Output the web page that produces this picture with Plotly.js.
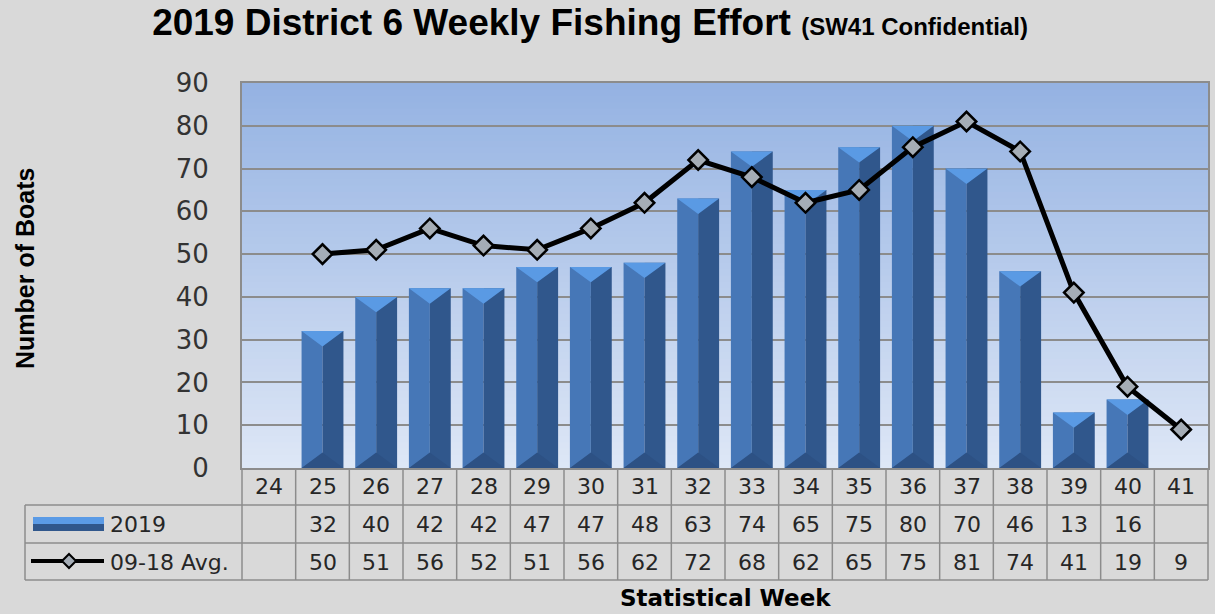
<!DOCTYPE html>
<html><head><meta charset="utf-8">
<script src="https://cdn.plot.ly/plotly-3.0.1.min.js"></script>
<style>html,body{margin:0;padding:0;background:#d9d9d9;}#chart{width:1215px;height:614px;}</style>
</head><body><div id="chart"></div>
<script>
// ---- data ----
const weeks = [24,25,26,27,28,29,30,31,32,33,34,35,36,37,38,39,40,41];
const boats2019 = [null,32,40,42,42,47,47,48,63,74,65,75,80,70,46,13,16,null];
const avg0918 = [null,50,51,56,52,51,56,62,72,68,62,65,75,81,74,41,19,9];
const seriesNames = ['2019','09-18 Avg.'];
const yTicks = [0,10,20,30,40,50,60,70,80,90];
const chartTitle = '2019 District 6 Weekly Fishing Effort';
const chartSubtitle = '(SW41 Confidential)';
const xTitle = 'Statistical Week';
const yTitle = 'Number of Boats';

// ---- geometry / style ----
const W = 1215, H = 614;
const M = {l: 242, r: 7, t: 83, b: 146};
const plotH = H - M.t - M.b, plotW = W - M.l - M.r;
const idx = weeks.map((w, i) => i);
const n = weeks.length;
const half = 0.39;     // half bar width (category units)
const bevel = 3.6;     // bevel depth (value units)
const py = px => (H - M.b - px) / plotH;       // pixel y -> paper y
const pxX = px => (px - M.l) / plotW;          // pixel x -> paper x
const catPaper = v => (v + 0.5) / n;           // category coord -> paper x

const shapes = [];
// plot background gradient
const gTop = [148,178,226], gBot = [222,231,246];
const bands = 60;
for (let k = 0; k < bands; k++) {
  const t = (k + 0.5) / bands;
  const c = gTop.map((a, j) => Math.round(gBot[j] + (a - gBot[j]) * t));
  shapes.push({type:'rect', xref:'paper', yref:'paper', x0:0, x1:1, y0:k/bands, y1:(k+1)/bands + 0.002,
    fillcolor:`rgb(${c[0]},${c[1]},${c[2]})`, line:{width:0}, layer:'below'});
}
// data table grid
const gridC = '#8c8c8c';
const rowB = [py(505), py(543), py(580)];
const leftX = pxX(25);
rowB.forEach(y => shapes.push({type:'line', xref:'paper', yref:'paper', x0:leftX, x1:1, y0:y, y1:y, line:{color:gridC, width:1.5}}));
shapes.push({type:'line', xref:'paper', yref:'paper', x0:leftX, x1:leftX, y0:rowB[0], y1:rowB[2], line:{color:gridC, width:1.5}});
for (let i = 0; i <= n; i++) {
  const x = catPaper(i - 0.5);
  shapes.push({type:'line', xref:'paper', yref:'paper', x0:x, x1:x, y0:0, y1:rowB[2], line:{color:gridC, width:1.5}});
}
// legend keys inside table
shapes.push({type:'rect', xref:'paper', yref:'paper', x0:pxX(33), x1:pxX(104), y0:py(517), y1:py(524), fillcolor:'#5b9be6', line:{width:0}});
shapes.push({type:'rect', xref:'paper', yref:'paper', x0:pxX(33), x1:pxX(104), y0:py(524), y1:py(531), fillcolor:'#30578c', line:{width:0}});
shapes.push({type:'line', xref:'paper', yref:'paper', x0:pxX(31), x1:pxX(104), y0:py(561), y1:py(561), line:{color:'#000', width:4}});
const dx = 7 / plotW, dy = 7 / plotH, cx = pxX(69), cy = py(561);
shapes.push({type:'path', xref:'paper', yref:'paper',
  path:`M ${cx-dx} ${cy} L ${cx} ${cy+dy} L ${cx+dx} ${cy} L ${cx} ${cy-dy} Z`,
  fillcolor:'#a5adb6', line:{color:'#000', width:2}});

// ---- traces ----
const leftFace = {type:'bar', x:idx, y:boats2019, width:half, offset:-half,
  marker:{color:'#4677b7', line:{width:0}}, hoverinfo:'skip', showlegend:false};
const rightFace = {type:'bar', x:idx, y:boats2019, width:half, offset:0,
  marker:{color:'#30578c', line:{width:0}}, hoverinfo:'skip', showlegend:false};
const topX = [], topY = [], botX = [], botY = [];
idx.forEach(i => {
  const v = boats2019[i];
  if (v == null) return;
  topX.push(i-half, i+half, i, i-half, null); topY.push(v, v, v-bevel, v, null);
  botX.push(i-half, i+half, i, i-half, null); botY.push(0, 0, bevel, 0, null);
});
const topCap = {type:'scatter', mode:'lines', x:topX, y:topY, fill:'toself', fillcolor:'#5a9ae4',
  line:{width:0, color:'#5a9ae4'}, hoverinfo:'skip', showlegend:false};
const botCap = {type:'scatter', mode:'lines', x:botX, y:botY, fill:'toself', fillcolor:'#2d5184',
  line:{width:0, color:'#2d5184'}, hoverinfo:'skip', showlegend:false};
const avgLine = {type:'scatter', mode:'lines+markers', x:idx, y:avg0918, name:seriesNames[1],
  line:{color:'#000', width:5}, marker:{symbol:'diamond', size:15, color:'#a5adb6', line:{color:'#000', width:2.5}},
  cliponaxis:false, showlegend:false};

// ---- annotations (table text, titles) ----
const ann = [];
const tf = {family:'DejaVu Sans', size:22, color:'#262626'};
idx.forEach(i => {
  ann.push({xref:'x', yref:'paper', x:i, y:py(487), text:String(weeks[i]), showarrow:false, font:tf, yanchor:'middle'});
  if (boats2019[i] != null) ann.push({xref:'x', yref:'paper', x:i, y:py(524), text:String(boats2019[i]), showarrow:false, font:tf, yanchor:'middle'});
  if (avg0918[i] != null) ann.push({xref:'x', yref:'paper', x:i, y:py(562), text:String(avg0918[i]), showarrow:false, font:tf, yanchor:'middle'});
});
ann.push({xref:'paper', yref:'paper', x:pxX(108), y:py(524), text:seriesNames[0], showarrow:false, font:tf, xanchor:'left', yanchor:'middle'});
ann.push({xref:'paper', yref:'paper', x:pxX(108), y:py(562), text:seriesNames[1], showarrow:false, font:tf, xanchor:'left', yanchor:'middle'});
ann.push({xref:'paper', yref:'paper', x:0.5, y:py(598), text:'<b>'+xTitle+'</b>', showarrow:false,
  font:{family:'DejaVu Sans', size:23, color:'#000'}, yanchor:'middle'});
ann.push({xref:'paper', yref:'paper', x:pxX(25), y:py(269), text:'<b>'+yTitle+'</b>', showarrow:false, textangle:-90,
  font:{family:'Liberation Sans', size:25, color:'#000'}, xanchor:'center', yanchor:'middle'});

const layout = {
  width:W, height:H, margin:M,
  paper_bgcolor:'#d9d9d9', plot_bgcolor:'rgba(0,0,0,0)',
  title:{text:'<b>'+chartTitle+'</b> <b><span style="font-size:24px">'+chartSubtitle+'</span></b>',
    x:590/W, xanchor:'center', y:1-22/H, yanchor:'middle',
    font:{family:'Liberation Sans', size:37, color:'#000'}},
  barmode:'overlay', showlegend:false,
  xaxis:{range:[-0.5, n-0.5], showticklabels:false, showgrid:false, zeroline:false,
    showline:true, linecolor:gridC, linewidth:2, mirror:true, fixedrange:true},
  yaxis:{range:[0,90], tickvals:yTicks, showgrid:true, gridcolor:gridC, gridwidth:2, zeroline:false,
    showline:true, linecolor:gridC, linewidth:2, mirror:true, ticks:'', ticklabelstandoff:26,
    tickfont:{family:'DejaVu Sans', size:26, color:'#333'}, fixedrange:true},
  shapes:shapes, annotations:ann
};
Plotly.newPlot('chart', [leftFace, rightFace, topCap, botCap, avgLine], layout, {displayModeBar:false, staticPlot:true});
</script></body></html>
